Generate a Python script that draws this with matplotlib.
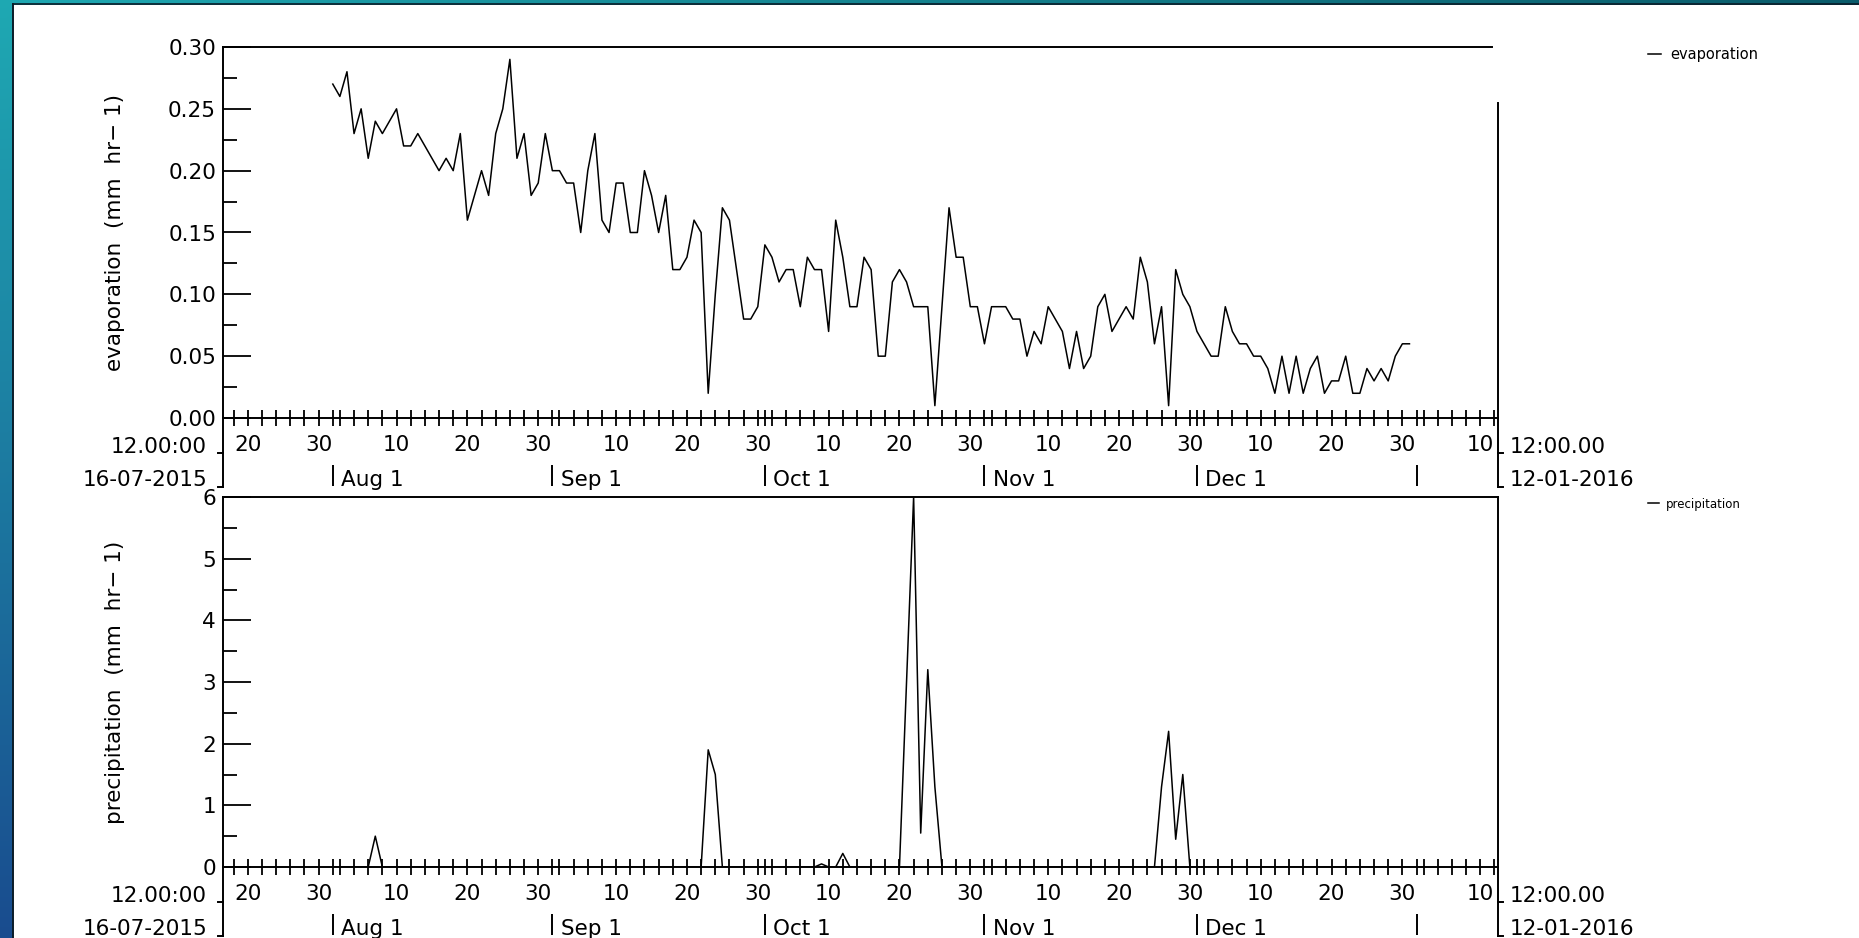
import numpy as np
import pandas as pd
import matplotlib
matplotlib.use('Agg')
import matplotlib.pyplot as plt
import matplotlib.dates as mdates
from matplotlib.ticker import MultipleLocator, FormatStrFormatter
from matplotlib.patches import Rectangle
from matplotlib.lines import Line2D

# daily values, 1 Aug 2015 - 31 Dec 2015 (mm hr-1)
evap_aug = [0.27, 0.26, 0.28, 0.23, 0.25, 0.21, 0.24, 0.23, 0.24, 0.25,
            0.22, 0.22, 0.23, 0.22, 0.21, 0.20, 0.21, 0.20, 0.23, 0.16,
            0.18, 0.20, 0.18, 0.23, 0.25, 0.29, 0.21, 0.23, 0.18, 0.19,
            0.23]
evap_sep = [0.20, 0.20, 0.19, 0.19, 0.15, 0.20, 0.23, 0.16, 0.15, 0.19,
            0.19, 0.15, 0.15, 0.20, 0.18, 0.15, 0.18, 0.12, 0.12, 0.13,
            0.16, 0.15, 0.02, 0.10, 0.17, 0.16, 0.12, 0.08, 0.08, 0.09]
evap_oct = [0.14, 0.13, 0.11, 0.12, 0.12, 0.09, 0.13, 0.12, 0.12, 0.07,
            0.16, 0.13, 0.09, 0.09, 0.13, 0.12, 0.05, 0.05, 0.11, 0.12,
            0.11, 0.09, 0.09, 0.09, 0.01, 0.09, 0.17, 0.13, 0.13, 0.09,
            0.09]
evap_nov = [0.06, 0.09, 0.09, 0.09, 0.08, 0.08, 0.05, 0.07, 0.06, 0.09,
            0.08, 0.07, 0.04, 0.07, 0.04, 0.05, 0.09, 0.10, 0.07, 0.08,
            0.09, 0.08, 0.13, 0.11, 0.06, 0.09, 0.01, 0.12, 0.10, 0.09]
evap_dec = [0.07, 0.06, 0.05, 0.05, 0.09, 0.07, 0.06, 0.06, 0.05, 0.05,
            0.04, 0.02, 0.05, 0.02, 0.05, 0.02, 0.04, 0.05, 0.02, 0.03,
            0.03, 0.05, 0.02, 0.02, 0.04, 0.03, 0.04, 0.03, 0.05, 0.06,
            0.06]

precip_aug = [0, 0, 0, 0, 0, 0, 0.5, 0, 0, 0,
              0, 0, 0, 0, 0, 0, 0, 0, 0, 0,
              0, 0, 0, 0, 0, 0, 0, 0, 0, 0,
              0]
precip_sep = [0, 0, 0, 0, 0, 0, 0, 0, 0, 0,
              0, 0, 0, 0, 0, 0, 0, 0, 0, 0,
              0, 0, 1.9, 1.5, 0, 0, 0, 0, 0, 0]
precip_oct = [0, 0, 0, 0, 0, 0, 0, 0, 0.05, 0,
              0, 0.22, 0, 0, 0, 0, 0, 0, 0, 0,
              3.0, 6.0, 0.55, 3.2, 1.3, 0, 0, 0, 0, 0,
              0]
precip_nov = [0, 0, 0, 0, 0, 0, 0, 0, 0, 0,
              0, 0, 0, 0, 0, 0, 0, 0, 0, 0,
              0, 0, 0, 0, 0, 1.3, 2.2, 0.45, 1.5, 0]
precip_dec = [0, 0, 0, 0, 0, 0, 0, 0, 0, 0,
              0, 0, 0, 0, 0, 0, 0, 0, 0, 0,
              0, 0, 0, 0, 0, 0, 0, 0, 0, 0,
              0]

t_start = '2015-07-16 12:00'
t_end = '2016-01-12 12:00'
start_labels = ['12.00:00', '16-07-2015']
end_labels = ['12:00.00', '12-01-2016']

dates = pd.date_range('2015-08-01', '2015-12-31', freq='D')
evap = np.array(evap_aug + evap_sep + evap_oct + evap_nov + evap_dec)
precip = np.array(precip_aug + precip_sep + precip_oct + precip_nov + precip_dec)

W, H = 1859, 938
FS = 15.5
fig = plt.figure(figsize=(W / 100, H / 100), dpi=100)

# teal/blue frame on left and top edges
bg = fig.add_axes([0, 0, 1, 1], zorder=-10)
yy, xx = np.mgrid[0:1:80j, 0:1:160j]
c_tl = np.array([0.12, 0.66, 0.70])
c_bl = np.array([0.10, 0.30, 0.56])
c_tr = np.array([0.04, 0.36, 0.42])
grad = (c_tl * ((1 - yy) * (1 - xx))[..., None] + c_bl * (yy * (1 - xx))[..., None]
        + c_tr * ((1 - yy) * xx)[..., None] + c_bl * (yy * xx)[..., None])
bg.imshow(grad, aspect='auto', extent=[0, 1, 0, 1], interpolation='bilinear')
bg.axis('off')
fig.add_artist(Rectangle((13 / W, 0), 1, 1 - 5 / H, transform=fig.transFigure,
                         facecolor='white', edgecolor='none', zorder=-5))
fig.add_artist(Line2D([12.5 / W, 12.5 / W], [0, 1 - 4.5 / H], transform=fig.transFigure,
                      color='#0b1c28', lw=1.4, zorder=-4))
fig.add_artist(Line2D([12.5 / W, 1], [1 - 4.5 / H, 1 - 4.5 / H], transform=fig.transFigure,
                      color='#0b1c28', lw=1.2, zorder=-4))

ax1 = fig.add_axes([223 / W, 1 - 418 / H, 1275 / W, 371 / H])
ax2 = fig.add_axes([223 / W, 1 - 867 / H, 1275 / W, 370 / H])

panels = [
    (ax1, evap, 'evaporation', 'evaporation  (mm  hr\u2212 1)', 0.30, 0.05, '%.2f', 10.5),
    (ax2, precip, 'precipitation', 'precipitation  (mm  hr\u2212 1)', 6, 1, '%d', 8.5),
]

x0, x1 = pd.Timestamp(t_start), pd.Timestamp(t_end)
months = pd.date_range('2015-08-01', '2016-01-01', freq='MS')

for ax, vals, name, ylab, ytop, ystep, yfmt, legfs in panels:
    ax.plot(dates, vals, color='black', lw=1.1, label=name)
    ax.set_xlim(x0, x1)
    ax.set_ylim(0, ytop)
    ax.set_facecolor('none')

    ax.xaxis.set_major_locator(mdates.DayLocator(bymonthday=[10, 20, 30]))
    ax.xaxis.set_major_formatter(mdates.DateFormatter('%d'))
    ax.xaxis.set_minor_locator(mdates.DayLocator(bymonthday=[1] + list(range(2, 31, 2))))
    ax.tick_params(axis='x', which='both', direction='inout', length=12, width=1.3,
                   pad=6, labelsize=FS, colors='black')
    ax.yaxis.set_major_locator(MultipleLocator(ystep))
    ax.yaxis.set_minor_locator(MultipleLocator(ystep / 2))
    ax.yaxis.set_major_formatter(FormatStrFormatter(yfmt))
    ax.tick_params(axis='y', which='major', direction='in', length=20, width=1.3,
                   pad=5, labelsize=FS)
    ax.tick_params(axis='y', which='minor', direction='in', length=10, width=1.3)

    for s in ax.spines.values():
        s.set_linewidth(1.4)

    ax.set_ylabel(ylab, fontsize=FS)
    ax.yaxis.set_label_coords(-0.077, 0.5)

    # second row of the time axis: month starts
    xt = ax.get_xaxis_transform()
    for m in months:
        mx = mdates.date2num(m)
        ax.plot([mx, mx], [-0.128, -0.183], transform=xt, color='black', lw=1.4,
                clip_on=False, solid_capstyle='butt')
        if m != months[-1]:
            ax.annotate(f'{m:%b} {m.day}', xy=(mx, -0.167), xycoords=xt,
                        xytext=(6, 0), textcoords='offset points',
                        ha='left', va='center', fontsize=FS)

    # start / end of axis brackets
    for xa, sgn in [(0, -1), (1, 1)]:
        ax.plot([xa, xa], [0, -0.186], transform=ax.transAxes, color='black',
                lw=1.4, clip_on=False)
        for yb in [-0.094, -0.186]:
            ax.plot([xa, xa + sgn * 0.004], [yb, yb], transform=ax.transAxes,
                    color='black', lw=1.4, clip_on=False)
    ax.text(-0.0125, -0.078, start_labels[0], transform=ax.transAxes,
            ha='right', va='center', fontsize=FS)
    ax.text(-0.0125, -0.167, start_labels[1], transform=ax.transAxes,
            ha='right', va='center', fontsize=FS)
    ax.text(1.0094, -0.078, end_labels[0], transform=ax.transAxes,
            ha='left', va='center', fontsize=FS)
    ax.text(1.0094, -0.167, end_labels[1], transform=ax.transAxes,
            ha='left', va='center', fontsize=FS)

    ax.legend(loc='center left', frameon=False, fontsize=legfs, handlelength=0.9,
              handletextpad=0.6, borderpad=0, borderaxespad=0,
              bbox_transform=fig.transFigure,
              bbox_to_anchor=(1648 / W, 1 - (55 if ax is ax1 else 504) / H))

# top panel: open frame corner as in the original
ax1.spines['top'].set_bounds(mdates.date2num(x0),
                             mdates.date2num(x1 - pd.Timedelta(hours=20)))
ax1.spines['right'].set_bounds(0, 0.255)

fig.savefig('out.png', dpi=100, facecolor='white')
